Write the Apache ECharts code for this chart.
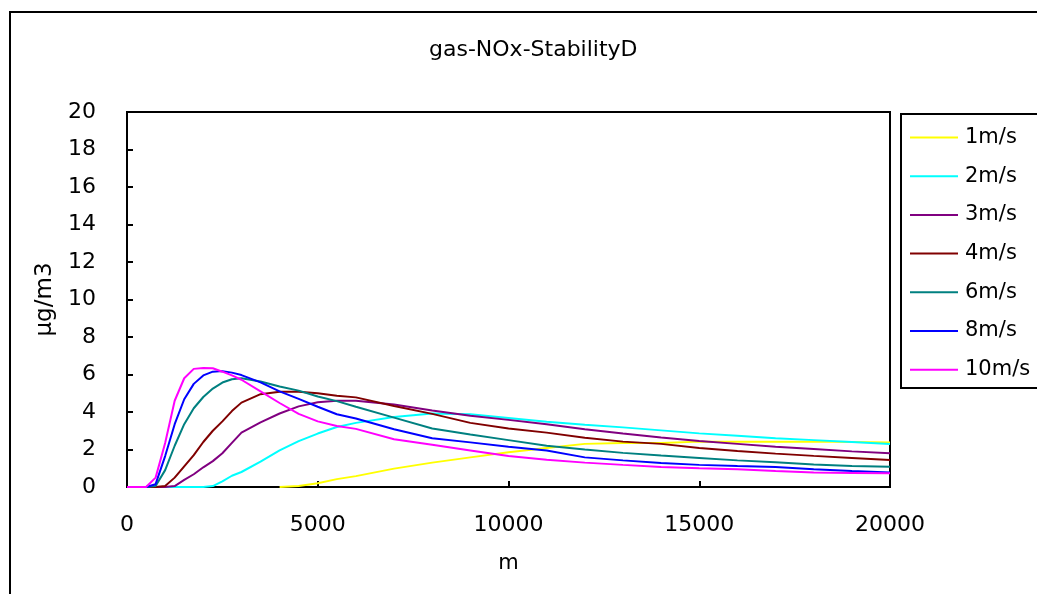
<!DOCTYPE html>
<html>
<head>
<meta charset="utf-8">
<script src="https://cdn.jsdelivr.net/npm/echarts@6/dist/echarts.min.js"></script>
<style>
html,body{margin:0;padding:0;background:#fff;}
#chart{width:1037px;height:594px;}
</style>
</head>
<body>
<div id="chart"></div>
<script>
var titleText = 'gas-NOx-StabilityD';
var xName = 'm';
var yName = 'μg/m3';
var seriesNames = ['1m/s', '2m/s', '3m/s', '4m/s', '6m/s', '8m/s', '10m/s'];
var seriesColors = ['#FFFF00', '#00FFFF', '#800080', '#800000', '#008080', '#0000FF', '#FF00FF'];

var dist = [0, 500, 750, 1000, 1250, 1500, 1750, 2000, 2250, 2500, 2750, 3000, 3500, 4000, 4500, 5000, 5500, 6000, 7000, 8000, 9000, 10000, 11000, 12000, 13000, 14000, 15000, 16000, 17000, 18000, 19000, 20000];

var v1 = [null, null, null, null, null, null, null, null, null, null, null, null, null, 0, 0.05, 0.2, 0.42, 0.58, 0.98, 1.3, 1.58, 1.85, 2.08, 2.3, 2.35, 2.35, 2.42, 2.42, 2.42, 2.42, 2.4, 2.38];
var v2 = [0, 0, 0, 0, 0, 0, 0, 0, 0.05, 0.3, 0.6, 0.8, 1.35, 1.95, 2.45, 2.85, 3.2, 3.42, 3.73, 3.92, 3.88, 3.68, 3.48, 3.32, 3.18, 3.02, 2.86, 2.73, 2.6, 2.5, 2.4, 2.29];
var v3 = [0, 0, 0, 0, 0.05, 0.38, 0.68, 1.05, 1.38, 1.8, 2.35, 2.9, 3.45, 3.92, 4.3, 4.52, 4.6, 4.6, 4.4, 4.08, 3.8, 3.58, 3.35, 3.08, 2.85, 2.64, 2.45, 2.3, 2.15, 2.03, 1.9, 1.8];
var v4 = [0, 0, 0, 0.05, 0.5, 1.1, 1.7, 2.4, 3.0, 3.5, 4.05, 4.5, 4.95, 5.08, 5.08, 5.0, 4.87, 4.78, 4.32, 3.9, 3.42, 3.12, 2.9, 2.63, 2.42, 2.3, 2.08, 1.92, 1.78, 1.66, 1.55, 1.44];
var v6 = [0, 0, 0.05, 0.9, 2.2, 3.35, 4.2, 4.8, 5.25, 5.57, 5.75, 5.8, 5.63, 5.36, 5.14, 4.83, 4.58, 4.28, 3.7, 3.12, 2.8, 2.5, 2.2, 2.0, 1.82, 1.68, 1.55, 1.42, 1.32, 1.2, 1.12, 1.08];
var v8 = [0, 0, 0.15, 1.65, 3.35, 4.68, 5.5, 5.95, 6.15, 6.18, 6.1, 5.97, 5.58, 5.1, 4.7, 4.28, 3.88, 3.65, 3.08, 2.6, 2.38, 2.15, 1.95, 1.58, 1.42, 1.28, 1.18, 1.12, 1.07, 0.95, 0.85, 0.78];
var v10 = [0, 0, 0.5, 2.35, 4.6, 5.8, 6.3, 6.35, 6.33, 6.15, 5.95, 5.72, 5.1, 4.48, 3.9, 3.5, 3.25, 3.1, 2.55, 2.25, 1.95, 1.65, 1.45, 1.3, 1.18, 1.07, 1.0, 0.95, 0.85, 0.77, 0.75, 0.73];

var seriesValues = [v1, v2, v3, v4, v6, v8, v10];

var FONT = 'DejaVu Sans';

function pairs(vals) {
  var out = [];
  for (var i = 0; i < dist.length; i++) {
    if (vals[i] !== null) out.push([dist[i], vals[i]]);
  }
  return out;
}

var series = seriesNames.map(function (n, i) {
  return {
    name: n,
    type: 'line',
    data: pairs(seriesValues[i]),
    symbol: 'none',
    showSymbol: false,
    color: seriesColors[i],
    lineStyle: { color: seriesColors[i], width: 2 },
    animation: false
  };
});

var chart = echarts.init(document.getElementById('chart'), null, { renderer: 'canvas' });
chart.setOption({
  backgroundColor: '#fff',
  animation: false,
  title: {
    text: titleText,
    left: 424,
    top: 34,
    textStyle: { fontFamily: FONT, fontSize: 22, fontWeight: 'normal', color: '#000' }
  },
  legend: {
    orient: 'vertical',
    left: 910,
    top: 127,
    padding: 0,
    itemWidth: 48,
    itemHeight: 20,
    itemGap: 17.7,
    icon: 'path://M0,9 L48,9 L48,11 L0,11 Z',
    data: seriesNames,
    textStyle: { fontFamily: FONT, fontSize: 21, color: '#000', lineHeight: 20, padding: [0, 0, 0, 2] }
  },
  graphic: [
    {
      type: 'rect',
      shape: { x: 10, y: 12, width: 1100, height: 700 },
      style: { fill: 'none', stroke: '#000', lineWidth: 2 },
      silent: true
    },
    {
      type: 'rect',
      shape: { x: 901, y: 114, width: 200, height: 274 },
      style: { fill: 'none', stroke: '#000', lineWidth: 2 },
      silent: true
    }
  ],
  grid: {
    left: 127, right: 147, top: 112, bottom: 107,
    show: true, borderColor: '#000', borderWidth: 2, backgroundColor: 'transparent'
  },
  xAxis: {
    type: 'value',
    min: 0, max: 20000, interval: 5000,
    name: xName,
    nameLocation: 'middle',
    nameGap: 66,
    nameTextStyle: { fontFamily: FONT, fontSize: 21, color: '#000' },
    axisLine: { show: true, lineStyle: { color: '#000', width: 2 } },
    axisTick: { show: true, inside: true, length: 6, lineStyle: { color: '#000', width: 2 } },
    axisLabel: { fontFamily: FONT, fontSize: 22, color: '#000', margin: 27, formatter: function (v) { return String(v); } },
    splitLine: { show: false }
  },
  yAxis: {
    type: 'value',
    min: 0, max: 20, interval: 2,
    name: yName,
    nameLocation: 'middle',
    nameGap: 70,
    nameRotate: 90,
    nameTextStyle: { fontFamily: FONT, fontSize: 23, color: '#000' },
    axisLine: { show: true, lineStyle: { color: '#000', width: 2 } },
    axisTick: { show: true, inside: true, length: 6, lineStyle: { color: '#000', width: 2 } },
    axisLabel: { fontFamily: FONT, fontSize: 22, color: '#000', margin: 31 },
    splitLine: { show: false }
  },
  series: series
});
</script>
</body>
</html>
